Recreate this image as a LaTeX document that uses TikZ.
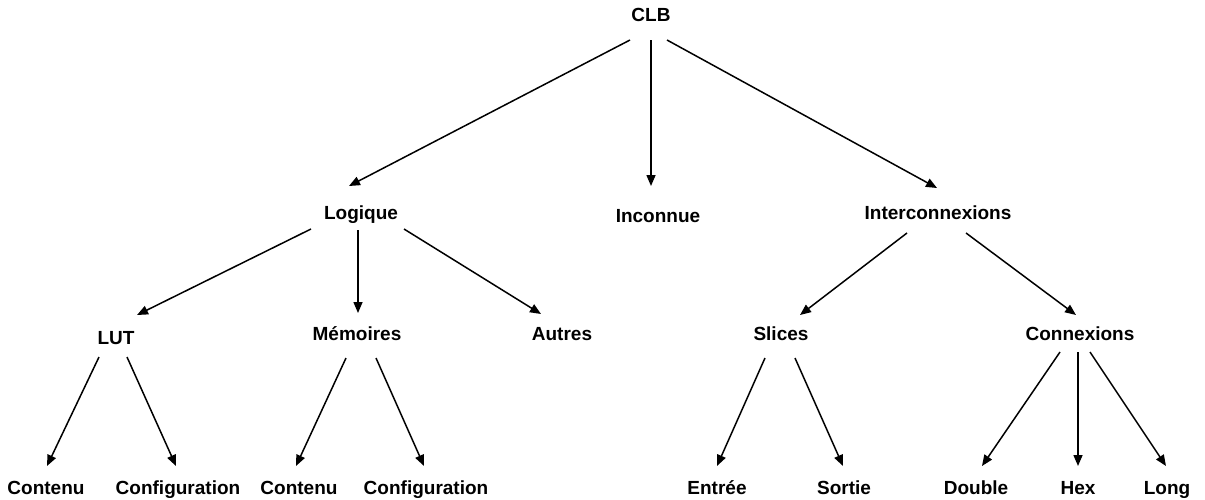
\documentclass[tikz,border=0pt]{standalone}
\usepackage{fontspec}
\setmainfont{Liberation Sans}
\usetikzlibrary{arrows.meta}
\begin{document}
\begin{tikzpicture}[x=1pt,y=-1pt,
  lbl/.style={font=\fontsize{19}{22}\selectfont\bfseries, inner sep=0pt, anchor=base},
  arr/.style={-{Triangle[length=11pt,width=9pt]}, line width=1.5pt}]
\useasboundingbox[fill=white] (0,0) rectangle (1205,499);
% level 0
\node[lbl] (clb) at (651,21) {CLB};
% level 1
\node[lbl] (log) at (361,219) {Logique};
\node[lbl] (inc) at (658,222) {Inconnue};
\node[lbl] (int) at (938,219) {Interconnexions};
% level 2
\node[lbl] (lut) at (116,344) {LUT};
\node[lbl] (mem) at (357,340) {Mémoires};
\node[lbl] (aut) at (562,340) {Autres};
\node[lbl] (sli) at (781,340) {Slices};
\node[lbl] (con) at (1080,340) {Connexions};
% level 3
\node[lbl] (c1) at (46,494) {Contenu};
\node[lbl] (f1) at (178,494) {Configuration};
\node[lbl] (c2) at (299,494) {Contenu};
\node[lbl] (f2) at (426,494) {Configuration};
\node[lbl] (ent) at (717,494) {Entrée};
\node[lbl] (sor) at (844,494) {Sortie};
\node[lbl] (dbl) at (976,494) {Double};
\node[lbl] (hex) at (1078,494) {Hex};
\node[lbl] (lng) at (1167,494) {Long};
% connectors
\draw[arr] ([shift={(-21,19)}]clb.base) -- ([shift={(-12,-33)}]log.base);
\draw[arr] ([shift={(0,19)}]clb.base) -- ([shift={(-7,-36)}]inc.base);
\draw[arr] ([shift={(16,19)}]clb.base) -- ([shift={(-1,-31)}]int.base);
\draw[arr] ([shift={(-50,10)}]log.base) -- ([shift={(21,-29)}]lut.base);
\draw[arr] ([shift={(-3,11)}]log.base) -- ([shift={(1,-27)}]mem.base);
\draw[arr] ([shift={(43,10)}]log.base) -- ([shift={(-21,-26)}]aut.base);
\draw[arr] ([shift={(-31,14)}]int.base) -- ([shift={(19,-25)}]sli.base);
\draw[arr] ([shift={(28,14)}]int.base) -- ([shift={(-4,-25)}]con.base);
\draw[arr] ([shift={(-17,13)}]lut.base) -- ([shift={(1,-28)}]c1.base);
\draw[arr] ([shift={(11,13)}]lut.base) -- ([shift={(-2,-28)}]f1.base);
\draw[arr] ([shift={(-11,18)}]mem.base) -- ([shift={(-3,-28)}]c2.base);
\draw[arr] ([shift={(19,18)}]mem.base) -- ([shift={(-2,-28)}]f2.base);
\draw[arr] ([shift={(-16,18)}]sli.base) -- ([shift={(0,-28)}]ent.base);
\draw[arr] ([shift={(14,18)}]sli.base) -- ([shift={(-1,-28)}]sor.base);
\draw[arr] ([shift={(-20,12)}]con.base) -- ([shift={(6,-28)}]dbl.base);
\draw[arr] ([shift={(-2,12)}]con.base) -- ([shift={(0,-28)}]hex.base);
\draw[arr] ([shift={(10,12)}]con.base) -- ([shift={(-1,-28)}]lng.base);
\end{tikzpicture}
\end{document}
